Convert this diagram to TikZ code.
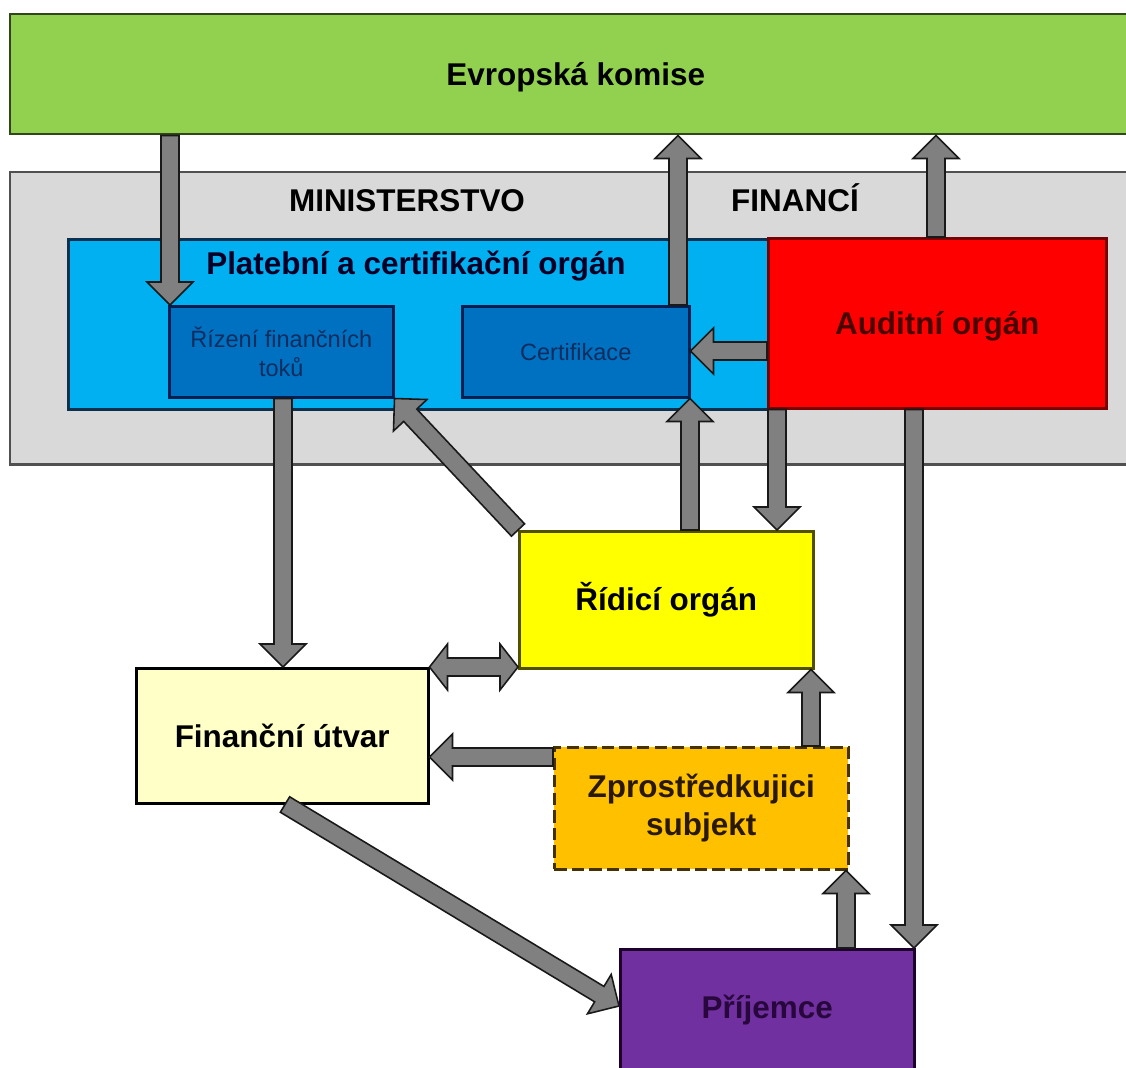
\documentclass[tikz,border=0pt]{standalone}
\usepackage{fontspec}
\setmainfont{Liberation Sans}
\usetikzlibrary{calc}
\newcommand{\px}{0.02cm}
\newcommand{\asw}{0.18cm}
\newcommand{\ahw}{0.46cm}
\newcommand{\ahl}{0.46cm}
\newcommand{\dhl}{0.36cm}
\definecolor{ekgreen}{RGB}{146,208,80}
\definecolor{ekdark}{RGB}{50,70,30}
\definecolor{mfgray}{RGB}{217,217,217}
\definecolor{mfdark}{RGB}{80,80,80}
\definecolor{pcoblue}{RGB}{0,176,240}
\definecolor{pcodark}{RGB}{10,50,80}
\definecolor{dkblue}{RGB}{0,112,192}
\definecolor{dkbluedark}{RGB}{0,30,80}
\definecolor{smalltxt}{RGB}{15,45,95}
\definecolor{audred}{RGB}{255,0,0}
\definecolor{auddark}{RGB}{120,0,0}
\definecolor{audtxt}{RGB}{75,0,0}
\definecolor{yel}{RGB}{255,255,0}
\definecolor{yeldark}{RGB}{80,80,0}
\definecolor{cream}{RGB}{255,255,200}
\definecolor{orng}{RGB}{255,192,0}
\definecolor{orngdark}{RGB}{70,50,0}
\definecolor{orngtxt}{RGB}{40,25,0}
\definecolor{purp}{RGB}{112,48,160}
\definecolor{purpdark}{RGB}{30,0,45}
\definecolor{purptxt}{RGB}{40,8,60}
\definecolor{arrgray}{RGB}{128,128,128}
\definecolor{arrdark}{RGB}{25,25,25}
\newcommand{\barrow}[2]{%
  \coordinate (bas) at #1;
  \coordinate (bae) at #2;
  \coordinate (bah) at ($(bae)!\ahl!(bas)$);
  \filldraw[arr] ($(bas)!\asw!90:(bae)$) -- ($(bah)!\asw!90:(bae)$) -- ($(bah)!\ahw!90:(bae)$) -- (bae)
    -- ($(bah)!\ahw!-90:(bae)$) -- ($(bah)!\asw!-90:(bae)$) -- ($(bas)!\asw!-90:(bae)$) -- cycle;
}
\newcommand{\dbarrow}[2]{%
  \coordinate (bas) at #1;
  \coordinate (bae) at #2;
  \coordinate (bah) at ($(bae)!\dhl!(bas)$);
  \coordinate (bag) at ($(bas)!\dhl!(bae)$);
  \filldraw[arr] (bas) -- ($(bag)!\ahw!90:(bae)$) -- ($(bag)!\asw!90:(bae)$) -- ($(bah)!\asw!90:(bae)$) -- ($(bah)!\ahw!90:(bae)$) -- (bae)
    -- ($(bah)!\ahw!-90:(bae)$) -- ($(bah)!\asw!-90:(bae)$) -- ($(bag)!\asw!-90:(bae)$) -- ($(bag)!\ahw!-90:(bae)$) -- cycle;
}
\begin{document}
\begin{tikzpicture}[x=0.02cm, y=-0.02cm,
  bx/.style={draw, line width=0.05cm, inner sep=0pt, anchor=north west, align=center},
  big/.style={font=\bfseries\fontsize{17.9pt}{21.5pt}\selectfont},
  small/.style={font=\fontsize{13.4pt}{16.4pt}\selectfont, text=smalltxt},
  capc/.style={text height=12.8pt, text depth=0pt},
  arr/.style={fill=arrgray, draw=arrdark, line width=0.9pt, line join=miter}]
\useasboundingbox (0,0) rectangle (1126,1068);
\clip (0,0) rectangle (1126,1068);
\fill[white] (0,0) rectangle (1126,1068);
% boxes
\node[bx, big, capc, fill=ekgreen, draw=ekdark, minimum width=1131*\px, minimum height=120*\px] (ek) at (9,13) {Evropská komise};
\node[bx, fill=mfgray, draw=mfdark, minimum width=1131*\px, minimum height=292*\px] (mf) at (9,171) {};
\node[big, anchor=base] (mft1) at (407,212) {MINISTERSTVO};
\node[big, anchor=base] (mft2) at (795,212) {FINANCÍ};
\node[bx, fill=pcoblue, draw=pcodark, minimum width=703*\px, minimum height=170*\px] (pco) at (67,238) {};
\node[big, anchor=base, text=black!85!blue] (pcot) at (416,274) {Platební a certifikační orgán};
\node[bx, small, fill=dkblue, draw=dkbluedark, minimum width=224*\px, minimum height=91*\px] (rizeni) at (168,305) {Řízení finančních\\toků};
\node[bx, small, fill=dkblue, draw=dkbluedark, minimum width=227*\px, minimum height=91*\px, text height=9.6pt, text depth=0pt] (cert) at (461,305) {Certifikace};
\node[bx, big, capc, fill=audred, draw=auddark, text=audtxt, minimum width=338*\px, minimum height=170*\px] (audit) at (767,237) {Auditní orgán};
\node[bx, big, capc, fill=yel, draw=yeldark, minimum width=294*\px, minimum height=137*\px] (ridici) at (518,530) {Řídicí orgán};
\node[bx, big, capc, fill=cream, draw=black, minimum width=292*\px, minimum height=135*\px] (futvar) at (135,667) {Finanční útvar};
\node[bx, big, fill=orng, draw=orngdark, text=orngtxt, dash pattern=on 7pt off 3pt, minimum width=294*\px, minimum height=122*\px] (zpro) at (553,746) {Zprostředkujici\\subjekt};
\node[bx, big, text height=12.8pt, text depth=8pt, fill=purp, draw=purpdark, text=purptxt, minimum width=294*\px, minimum height=130*\px] (prij) at (619,948) {Příjemce};
% arrows
\barrow{(170,0 |- ek.south)}{(170,0 |- rizeni.north)}
\barrow{(678,0 |- cert.north)}{(678,0 |- ek.south)}
\barrow{(936,0 |- audit.north)}{(936,0 |- ek.south)}
\barrow{(audit.west |- 0,351)}{(cert.east |- 0,351)}
\barrow{(283,0 |- rizeni.south)}{(283,0 |- futvar.north)}
\barrow{(ridici.north west)}{(rizeni.south east)}
\barrow{(690,0 |- ridici.north)}{(690,0 |- cert.south)}
\barrow{(777,0 |- audit.south)}{(777,0 |- ridici.north)}
\barrow{(914,0 |- audit.south)}{(914,0 |- prij.north)}
\dbarrow{(futvar.east |- 0,667)}{(ridici.west |- 0,667)}
\barrow{(zpro.west |- 0,757)}{(futvar.east |- 0,757)}
\barrow{(811,0 |- zpro.north)}{(811,0 |- ridici.south)}
\barrow{(846,0 |- prij.north)}{(846,0 |- zpro.south)}
\barrow{(285,0 |- futvar.south)}{(prij.west |- 0,1006)}
\end{tikzpicture}
\end{document}
